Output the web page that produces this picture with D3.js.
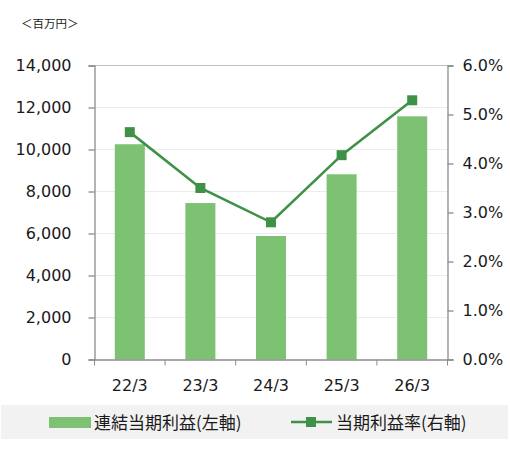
<!DOCTYPE html>
<html><head><meta charset="utf-8">
<script src="https://cdn.jsdelivr.net/npm/d3@7"></script>
<style>body{margin:0;background:#fff;}svg{display:block;}</style>
</head><body>
<svg id="c" width="510" height="451"></svg>
<script>
const categories = ["22/3","23/3","24/3","25/3","26/3"];
const profit = [10250, 7450, 5880, 8820, 11580];
const margin = [4.64, 3.50, 2.80, 4.17, 5.29];
const leftTicks = [0,2000,4000,6000,8000,10000,12000,14000];
const rightTicks = [0,1,2,3,4,5,6];
const unitLabel = "＜百万円＞";
const legendLabels = ["連結当期利益(左軸)","当期利益率(右軸)"];

const svg = d3.select("#c");
const L = 94.5, R = 447.5, T = 65.5, B = 359.5;
const x = d3.scaleBand().domain(categories).range([L,R]).paddingInner(0.575).paddingOuter(0.2875);
const xc = d3.scaleBand().domain(categories).range([L,R]);
const yL = d3.scaleLinear().domain([0,14000]).range([B,T]);
const yR = d3.scaleLinear().domain([0,6]).range([B,T]);
const font = "'DejaVu Sans', Verdana, sans-serif";
const cjk = "'Noto Sans CJK JP', sans-serif";

// gridlines
svg.append("g").selectAll("line").data(leftTicks.slice(1,-1)).join("line")
  .attr("x1",L).attr("x2",R).attr("y1",d=>yL(d)).attr("y2",d=>yL(d))
  .attr("stroke","#ececec").attr("stroke-width",1);
// top border
svg.append("line").attr("x1",L).attr("x2",R).attr("y1",T).attr("y2",T).attr("stroke","#bfbfbf");

// bars
svg.append("g").selectAll("rect").data(profit).join("rect")
  .attr("x",(d,i)=>x(categories[i])).attr("width",x.bandwidth())
  .attr("y",d=>yL(d)).attr("height",d=>B-yL(d)).attr("fill","#7dc173");

// axes
const axL = svg.append("g").attr("transform",`translate(${L},0)`)
  .call(d3.axisLeft(yL).tickValues(leftTicks).tickSize(6).tickFormat(d3.format(",")));
const axR = svg.append("g").attr("transform",`translate(${R},0)`)
  .call(d3.axisRight(yR).tickValues(rightTicks).tickSize(6).tickFormat(d=>d.toFixed(1)+"%"));
const axB = svg.append("g").attr("transform",`translate(0,${B})`)
  .call(d3.axisBottom(xc).tickSize(0).tickFormat(d=>d));
// between-category ticks
svg.append("g").selectAll("line").data(categories.concat(["end"])).join("line")
  .attr("x1",(d,i)=>L+i*xc.step()).attr("x2",(d,i)=>L+i*xc.step())
  .attr("y1",B).attr("y2",B+6).attr("stroke","#8c8c8c");
[axL,axR,axB].forEach(a=>{
  a.selectAll("path,line").attr("stroke","#8c8c8c").attr("stroke-width",1.3);
  a.selectAll("text").attr("font-family",font).attr("font-size",16).attr("fill","#1a1a1a");
});
axL.selectAll("text").attr("x",-23);
axR.selectAll("text").attr("x",15);
axB.selectAll("text").attr("dy",0).attr("y",31);

// line
const line = d3.line().x((d,i)=>xc(categories[i])+xc.bandwidth()/2).y(d=>yR(d));
svg.append("path").datum(margin).attr("d",line).attr("fill","none")
  .attr("stroke","#3f9147").attr("stroke-width",2.6);
svg.append("g").selectAll("rect").data(margin).join("rect")
  .attr("x",(d,i)=>xc(categories[i])+xc.bandwidth()/2-5).attr("y",d=>yR(d)-5)
  .attr("width",10).attr("height",10).attr("fill","#3f9147");

// unit label
svg.append("text").attr("x",21).attr("y",28).attr("font-family",cjk).attr("font-size",11.5)
  .attr("fill","#1a1a1a").text(unitLabel);

// legend
svg.append("rect").attr("x",1).attr("y",405).attr("width",507).attr("height",34).attr("fill","#f2f2f2");
svg.append("rect").attr("x",49).attr("y",417).attr("width",42).attr("height",11).attr("fill","#7dc173");
svg.append("text").attr("x",94).attr("y",428.5).attr("font-family",cjk).attr("font-size",17)
  .attr("fill","#1a1a1a").text(legendLabels[0]);
svg.append("line").attr("x1",291).attr("x2",332).attr("y1",422).attr("y2",422)
  .attr("stroke","#3f9147").attr("stroke-width",2.6);
svg.append("rect").attr("x",306).attr("y",417).attr("width",10).attr("height",10).attr("fill","#3f9147");
svg.append("text").attr("x",336).attr("y",428.5).attr("font-family",cjk).attr("font-size",17)
  .attr("fill","#1a1a1a").text(legendLabels[1]);
</script>
</body></html>
